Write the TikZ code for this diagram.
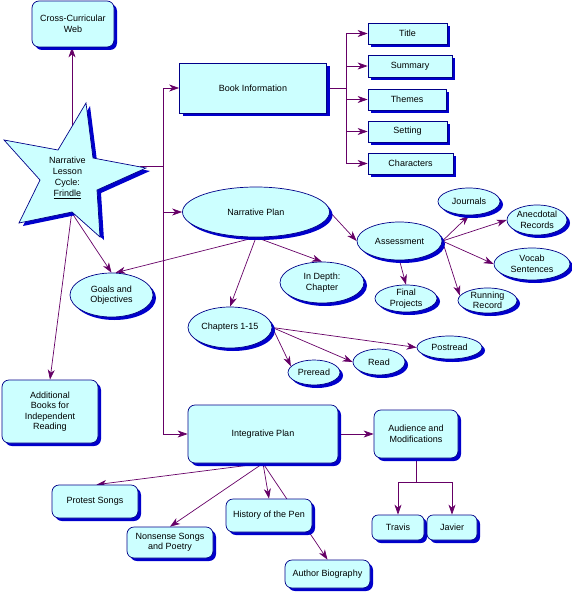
\documentclass[tikz,border=0pt]{standalone}
\usepackage{fontspec}
\setmainfont{Liberation Sans}
\usetikzlibrary{shapes.geometric,shadows,arrows.meta,backgrounds}
\definecolor{cfill}{HTML}{CCFFFF}
\definecolor{cborder}{HTML}{000088}
\definecolor{sblue}{HTML}{0000CC}
\definecolor{conn}{HTML}{660066}
\tikzset{
  base/.style={draw=cborder, line width=0.7pt, fill=cfill, inner sep=0pt, align=center,
    font=\fontsize{9}{10.5}\selectfont,
    drop shadow={shadow xshift=3pt, shadow yshift=-3pt, fill=sblue, opacity=1}},
  sqbox/.style={base, rectangle},
  rbox/.style={base, rectangle, rounded corners=7pt},
  ell/.style={base, ellipse},
  wline/.style={draw=conn, line width=0.7pt},
  arr/.style={draw=conn, line width=0.7pt, -{Stealth[length=10pt,width=7pt,inset=3pt]}},
}
\begin{document}
\begin{tikzpicture}[x=1pt,y=-1pt]
\useasboundingbox (0,0) rectangle (571,594);
% star
\coordinate (sTop) at (72,140);
\coordinate (sR) at (140,166);
\coordinate (sG) at (60,195);
\coordinate (sA) at (74,195);
\fill[sblue] (90,106) -- (97,161) -- (150,171) -- (101,193) -- (104,240) -- (76,215) -- (23,226) -- (44,183) -- (8,143) -- (62,153) -- cycle;
\draw[cborder, line width=0.7pt, fill=cfill] (86,103) -- (93,158) -- (146,168) -- (97,190) -- (100,237) -- (72,212) -- (19,223) -- (40,180) -- (4,140) -- (58,150) -- cycle;
\node[align=center, font=\fontsize{9}{11}\selectfont, inner sep=0pt] (star) at (67.5,177.5) {Narrative\\Lesson\\Cycle:\\\underline{Frindle}};
% nodes
\node[rbox, minimum width=82, minimum height=46] (ccw) at (73,24) {Cross-Curricular\\Web};
\node[sqbox, minimum width=147, minimum height=50] (book) at (253,88) {Book Information};
\node[sqbox, minimum width=79, minimum height=21] (title) at (407.5,33.5) {Title};
\node[sqbox, minimum width=84, minimum height=22] (summary) at (410,66) {Summary};
\node[sqbox, minimum width=78, minimum height=21] (themes) at (407,99.5) {Themes};
\node[sqbox, minimum width=79, minimum height=21] (setting) at (407.5,131.5) {Setting};
\node[sqbox, minimum width=85, minimum height=21] (characters) at (410.5,163.5) {Characters};
\node[ell, minimum width=147, minimum height=50] (narr) at (256,212) {Narrative Plan};
\node[ell, minimum width=85, minimum height=38] (assess) at (399.5,241) {Assessment};
\node[ell, minimum width=62, minimum height=27] (journals) at (469,201.5) {Journals};
\node[ell, minimum width=60, minimum height=30] (anec) at (537,220) {Anecdotal\\Records};
\node[ell, minimum width=76, minimum height=32] (vocab) at (532,264) {Vocab\\Sentences};
\node[ell, minimum width=59, minimum height=25] (running) at (487.5,300.5) {Running\\Record};
\node[ell, minimum width=62, minimum height=27] (final) at (406,298.5) {Final\\Projects};
\node[ell, minimum width=84, minimum height=41] (indepth) at (322,282.5) {In Depth:\\Chapter};
\node[ell, minimum width=84, minimum height=41] (chapters) at (230,327.5) {Chapters 1-15};
\node[ell, minimum width=52, minimum height=25] (preread) at (314,372.5) {Preread};
\node[ell, minimum width=52, minimum height=26] (read) at (379,362) {Read};
\node[ell, minimum width=65, minimum height=23] (postread) at (449.5,347.5) {Postread};
\node[ell, minimum width=83, minimum height=44] (goals) at (111.5,295) {Goals and\\Objectives};
\node[rbox, minimum width=96, minimum height=63] (addbooks) at (50,411.5) {Additional\\Books for\\Independent\\Reading};
\node[rbox, minimum width=150, minimum height=58] (integ) at (263,434) {Integrative Plan};
\node[rbox, minimum width=84, minimum height=48] (aud) at (416,434) {Audience and\\Modifications};
\node[rbox, rounded corners=6pt, minimum width=52, minimum height=25] (travis) at (398,527.5) {Travis};
\node[rbox, rounded corners=6pt, minimum width=50, minimum height=25] (javier) at (452,527.5) {Javier};
\node[rbox, minimum width=86, minimum height=33] (protest) at (95,501.5) {Protest Songs};
\node[rbox, minimum width=86, minimum height=31] (nonsense) at (170,542.5) {Nonsense Songs\\and Poetry};
\node[rbox, minimum width=86, minimum height=33] (history) at (269,515.5) {History of the Pen};
\node[rbox, minimum width=85, minimum height=28] (author) at (327.5,574) {Author Biography};
% connectors
\begin{scope}[on background layer]
\coordinate (tTop) at (163,88);
\coordinate (tBot) at (163,434);
\coordinate (bTrunk) at (346,88);
\coordinate (jn) at (416,482);
\draw[arr] (sTop) -- (sTop |- ccw.south);
\draw[wline] (sR) -- (sR -| tTop);
\draw[wline] (tTop) -- (tBot);
\draw[arr] (tTop) -- (book.west);
\draw[arr] (tTop |- narr) -- (narr.west);
\draw[arr] (tBot) -- (integ.west);
\draw[wline] (book.east) -- (bTrunk);
\draw[wline] (bTrunk |- title) -- (bTrunk |- characters);
\foreach \n in {title,summary,themes,setting,characters}
  \draw[arr] (bTrunk |- \n) -- (\n.west);
\draw[arr] (narr.east) -- (assess.west);
\draw[arr] (assess.east) -- (journals.south);
\draw[arr] (assess.east) -- (anec.west);
\draw[arr] (assess.east) -- (vocab.west);
\draw[arr] (assess.east) -- (running.170);
\draw[arr] (assess.south) -- (final.north);
\draw[arr] (narr.south) -- (indepth.north);
\draw[arr] (narr.south) -- (chapters.north);
\draw[arr] (narr.south) -- (goals.80);
\draw[arr] (chapters.east) -- (preread.165);
\draw[arr] (chapters.east) -- (read.west);
\draw[arr] (chapters.east) -- (postread.west);
\draw[arr] (sG) -- (goals.north);
\draw[arr] (sA) -- (addbooks.north);
\draw[arr] (integ.east) -- (aud.west);
\draw[wline] (aud.south) -- (jn);
\draw[wline] (jn -| travis.north) -- (jn -| javier.north);
\draw[arr] (jn -| travis.north) -- (travis.north);
\draw[arr] (jn -| javier.north) -- (javier.north);
\draw[arr] (integ.south) -- (protest.85);
\draw[arr] (integ.south) -- (nonsense.north);
\draw[arr] (integ.south) -- (history.north);
\draw[arr] (integ.south) -- (author.north);
\end{scope}
\end{tikzpicture}
\end{document}
